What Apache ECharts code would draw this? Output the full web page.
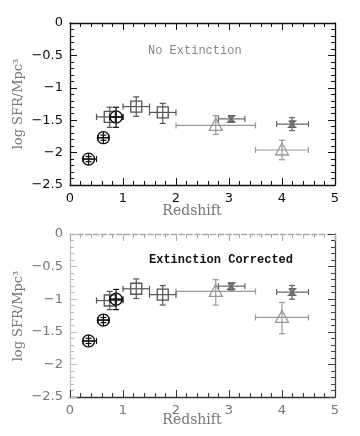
<!DOCTYPE html>
<html><head><meta charset="utf-8">
<script src="https://cdn.jsdelivr.net/npm/echarts@6/dist/echarts.min.js"></script>
<style>html,body{margin:0;padding:0;background:#fff}#c{width:360px;height:436px}</style>
</head><body><div id="c"></div>
<script>
// ---- data ----
const xTicks = [0, 1, 2, 3, 4, 5];
const yTicks = [0, -0.5, -1, -1.5, -2, -2.5];
// Circles
const circX   = [0.35, 0.63, 0.87];
const circXlo = [0.25, 0.53, 0.75];
const circXhi = [0.50, 0.73, 1.00];
const circTopY   = [-2.10, -1.77, -1.45];
const circTopYlo = [-2.14, -1.81, -1.61];
const circTopYhi = [-2.06, -1.73, -1.30];
const circBotY   = [-1.64, -1.32, -1.00];
const circBotYlo = [-1.68, -1.36, -1.16];
const circBotYhi = [-1.60, -1.28, -0.85];
// Squares
const sqX   = [0.75, 1.25, 1.75];
const sqXlo = [0.50, 1.00, 1.50];
const sqXhi = [1.00, 1.50, 2.00];
const sqTopY   = [-1.45, -1.29, -1.38];
const sqTopYlo = [-1.61, -1.44, -1.55];
const sqTopYhi = [-1.30, -1.14, -1.24];
const sqBotY   = [-1.02, -0.84, -0.93];
const sqBotYlo = [-1.16, -0.99, -1.09];
const sqBotYhi = [-0.88, -0.69, -0.79];
// Triangles
const triX   = [2.75, 4.00];
const triXlo = [2.00, 3.50];
const triXhi = [3.50, 4.50];
const triTopY   = [-1.58, -1.96];
const triTopYlo = [-1.72, -2.11];
const triTopYhi = [-1.43, -1.81];
const triBotY   = [-0.88, -1.28];
const triBotYlo = [-1.09, -1.53];
const triBotYhi = [-0.70, -1.05];
// Stars
const stX   = [3.04, 4.19];
const stXlo = [2.80, 3.90];
const stXhi = [3.30, 4.50];
const stTopY   = [-1.48, -1.56];
const stTopYlo = [-1.53, -1.66];
const stTopYhi = [-1.43, -1.46];
const stBotY   = [-0.80, -0.89];
const stBotYlo = [-0.86, -1.00];
const stBotYhi = [-0.75, -0.79];

function rows(x, xlo, xhi, y, ylo, yhi) {
  return x.map((v, i) => [v, y[i], xlo[i], xhi[i], ylo[i], yhi[i]]);
}

function makeRender(kind, color, fill) {
  return function (params, api) {
    const x = api.value(0), y = api.value(1);
    const c = api.coord([x, y]);
    const a = api.coord([api.value(2), y]), b = api.coord([api.value(3), y]);
    const d = api.coord([x, api.value(4)]), e = api.coord([x, api.value(5)]);
    const st = { stroke: color, lineWidth: 1.2, fill: null };
    const cap = 3;
    const ch = [
      { type: 'line', shape: { x1: a[0], y1: a[1], x2: b[0], y2: b[1] }, style: st },
      { type: 'line', shape: { x1: a[0], y1: a[1] - cap, x2: a[0], y2: a[1] + cap }, style: st },
      { type: 'line', shape: { x1: b[0], y1: b[1] - cap, x2: b[0], y2: b[1] + cap }, style: st },
      { type: 'line', shape: { x1: d[0], y1: d[1], x2: e[0], y2: e[1] }, style: st },
      { type: 'line', shape: { x1: d[0] - cap, y1: d[1], x2: d[0] + cap, y2: d[1] }, style: st },
      { type: 'line', shape: { x1: e[0] - cap, y1: e[1], x2: e[0] + cap, y2: e[1] }, style: st }
    ];
    const ms = { stroke: color, lineWidth: 1.3, fill: fill };
    if (kind === 'circle') {
      ch.push({ type: 'circle', shape: { cx: c[0], cy: c[1], r: 6 }, style: ms });
      ch.push({ type: 'line', shape: { x1: c[0] - 6, y1: c[1], x2: c[0] + 6, y2: c[1] }, style: st });
      ch.push({ type: 'line', shape: { x1: c[0], y1: c[1] - 6, x2: c[0], y2: c[1] + 6 }, style: st });
    } else if (kind === 'square') {
      ch.push({ type: 'rect', shape: { x: c[0] - 5.5, y: c[1] - 5.5, width: 11, height: 11 }, style: ms });
    } else if (kind === 'triangle') {
      ch.push({ type: 'polygon', shape: { points: [[c[0], c[1] - 7], [c[0] - 6.5, c[1] + 5], [c[0] + 6.5, c[1] + 5]] }, style: ms });
    } else {
      const s = 3.2;
      ch.push({ type: 'polyline', shape: { points: [[c[0] - s, c[1] - s], [c[0] + s, c[1] - s], [c[0] - s, c[1] + s], [c[0] + s, c[1] + s], [c[0] - s, c[1] - s]] }, style: { stroke: color, lineWidth: 1.5, fill: null } });
    }
    return { type: 'group', children: ch };
  };
}

const grids = [
  { left: 70, top: 23, width: 265, height: 162 },
  { left: 70, top: 234, width: 265, height: 163 }
];
const labelFont = { fontFamily: 'DejaVu Sans', fontSize: 13 };

function xAx(gi, pos, lblColor, lineColor, lineType) {
  return {
    type: 'value', gridIndex: gi, position: pos, min: 0, max: 5, interval: 1,
    axisLine: { show: true, onZero: false, lineStyle: { color: lineColor, width: 1.3, type: lineType } },
    axisTick: { show: true, inside: true, length: 7, lineStyle: { color: lineColor } },
    minorTick: { show: true, splitNumber: 5, length: 4, lineStyle: { color: lineColor } },
    splitLine: { show: false },
    axisLabel: { show: pos === 'bottom', color: lblColor, margin: 7, ...labelFont,
      formatter: v => xTicks.includes(v) ? String(v) : '' }
  };
}
function yAx(gi, pos, lblColor, lineColor, lineType) {
  return {
    type: 'value', gridIndex: gi, position: pos, min: -2.5, max: 0, interval: 0.5,
    axisLine: { show: true, onZero: false, lineStyle: { color: lineColor, width: 1.3, type: lineType } },
    axisTick: { show: true, inside: true, length: 7, lineStyle: { color: lineColor } },
    minorTick: { show: true, splitNumber: 5, length: 4, lineStyle: { color: lineColor } },
    splitLine: { show: false },
    axisLabel: { show: pos === 'left', color: lblColor, margin: 7, ...labelFont,
      formatter: v => yTicks.includes(v) ? String(v).replace('-', '\u2212') : '' }
  };
}

function seriesFor(gi, kind, color, fill, data) {
  return { type: 'custom', xAxisIndex: gi * 2, yAxisIndex: gi * 2, renderItem: makeRender(kind, color, fill),
    encode: { x: [0, 2, 3], y: [1, 4, 5] }, data: data, silent: true, z: kind === 'circle' ? 5 : 3 };
}

const cCirc = '#111', cSq = '#555', cTri = '#999', cSt = '#666';

const option = {
  animation: false,
  grid: grids,
  xAxis: [xAx(0, 'bottom', '#111', '#111', 'solid'), xAx(0, 'top', '#111', '#111', 'solid'),
          xAx(1, 'bottom', '#777', '#333', 'solid'), xAx(1, 'top', '#aaa', '#aaa', 'dashed')],
  yAxis: [yAx(0, 'left', '#111', '#111', 'solid'), yAx(0, 'right', '#111', '#111', 'solid'),
          yAx(1, 'left', '#777', '#bbb', 'dotted'), yAx(1, 'right', '#444', '#444', 'solid')],
  series: [
    seriesFor(0, 'triangle', cTri, null, rows(triX, triXlo, triXhi, triTopY, triTopYlo, triTopYhi)),
    seriesFor(0, 'star', cSt, null, rows(stX, stXlo, stXhi, stTopY, stTopYlo, stTopYhi)),
    seriesFor(0, 'square', cSq, null, rows(sqX, sqXlo, sqXhi, sqTopY, sqTopYlo, sqTopYhi)),
    seriesFor(0, 'circle', cCirc, null, rows(circX, circXlo, circXhi, circTopY, circTopYlo, circTopYhi)),
    seriesFor(1, 'triangle', cTri, null, rows(triX, triXlo, triXhi, triBotY, triBotYlo, triBotYhi)),
    seriesFor(1, 'star', cSt, null, rows(stX, stXlo, stXhi, stBotY, stBotYlo, stBotYhi)),
    seriesFor(1, 'square', cSq, null, rows(sqX, sqXlo, sqXhi, sqBotY, sqBotYlo, sqBotYhi)),
    seriesFor(1, 'circle', cCirc, null, rows(circX, circXlo, circXhi, circBotY, circBotYlo, circBotYhi))
  ],
  graphic: [
    { type: 'text', left: 148, top: 45, style: { text: 'No Extinction', fill: '#888', font: '12px "Liberation Mono"' } },
    { type: 'text', left: 149, top: 254, style: { text: 'Extinction Corrected', fill: '#111', font: 'bold 12px "Liberation Mono"' } },
    { type: 'text', x: 192, y: 211, style: { text: 'Redshift', fill: '#777', font: '14px "DejaVu Serif"', align: 'center', verticalAlign: 'middle' } },
    { type: 'text', x: 192, y: 420, style: { text: 'Redshift', fill: '#777', font: '14px "DejaVu Serif"', align: 'center', verticalAlign: 'middle' } },
    { type: 'text', x: 19, y: 104, rotation: Math.PI / 2, style: { text: 'log SFR/Mpc\u00b3', fill: '#777', font: '13px "DejaVu Serif"', align: 'center', verticalAlign: 'middle' } },
    { type: 'text', x: 19, y: 316, rotation: Math.PI / 2, style: { text: 'log SFR/Mpc\u00b3', fill: '#777', font: '13px "DejaVu Serif"', align: 'center', verticalAlign: 'middle' } }
  ]
};
const chart = echarts.init(document.getElementById('c'), null, { renderer: 'canvas' });
chart.setOption(option);
</script></body></html>
